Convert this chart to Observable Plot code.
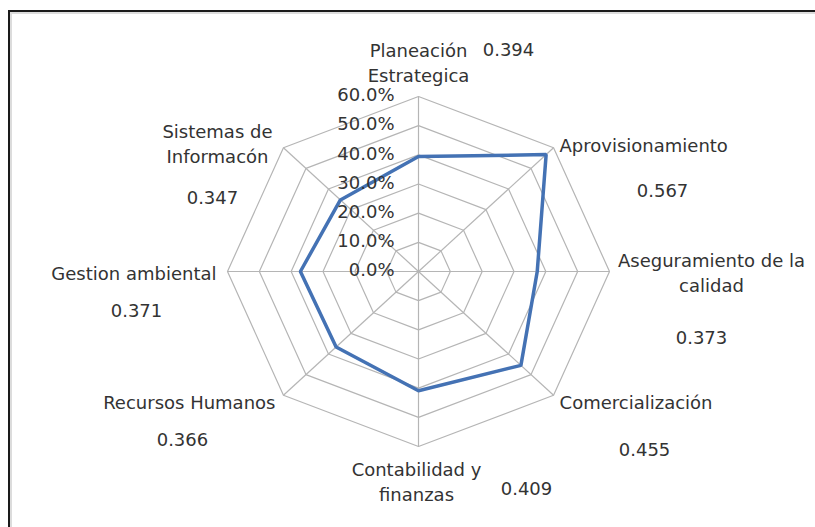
<!DOCTYPE html>
<html>
<head>
<meta charset="utf-8">
<script src="https://cdn.jsdelivr.net/npm/d3@7"></script>
<script src="https://cdn.jsdelivr.net/npm/@observablehq/plot@0.6"></script>
<style>
  html, body { margin: 0; padding: 0; background: #fff; }
  #wrap { position: relative; width: 815px; height: 527px; overflow: hidden; }
  #border { position: absolute; left: 8px; top: 10px; right: -4px; bottom: -4px;
            border-top: 2px solid #1a1a1a; border-left: 2px solid #1a1a1a;
            box-shadow: inset 2px 2px 0 #dcdcdc; pointer-events: none; }
  svg { position: absolute; left: 0; top: 0; }
</style>
</head>
<body>
<div id="wrap"><div id="border"></div></div>
<script>
// ---- data ----
const categories = [
  "Planeación\nEstrategica",
  "Aprovisionamiento",
  "Aseguramiento de la\ncalidad",
  "Comercialización",
  "Contabilidad y\nfinanzas",
  "Recursos Humanos",
  "Gestion ambiental",
  "Sistemas de\nInformacón"
];
const values = [0.394, 0.567, 0.373, 0.455, 0.409, 0.366, 0.371, 0.347];
const valueLabels = ["0.394", "0.567", "0.373", "0.455", "0.409", "0.366", "0.371", "0.347"];
const tickValues = [0, 0.1, 0.2, 0.3, 0.4, 0.5, 0.6];
const tickLabels = ["0.0%", "10.0%", "20.0%", "30.0%", "40.0%", "50.0%", "60.0%"];

// ---- label layout (pixel offsets from each axis end) ----
const catLayout = [
  {anchor: "middle", dx: 0,   dy: -35},
  {anchor: "start",  dx: 6,   dy: -4},
  {anchor: "middle", dx: 102, dy: 0},
  {anchor: "start",  dx: 6,   dy: 6},
  {anchor: "middle", dx: -2,  dy: 34},
  {anchor: "end",    dx: -8,  dy: 6},
  {anchor: "end",    dx: -11, dy: 0},
  {anchor: "middle", dx: -66, dy: -5}
];
const valLayout = [
  {dx: 90,  dy: -46},
  {dx: 109, dy: 43},
  {dx: 92,  dy: 67},
  {dx: 91,  dy: 55},
  {dx: 108, dy: 43},
  {dx: -101,dy: 45},
  {dx: -91, dy: 40},
  {dx: -71, dy: 50}
];

// ---- geometry helpers ----
const n = categories.length;
const maxV = 0.6;
const ang = i => (i * 2 * Math.PI) / n;
const px = (i, v) => v * Math.sin(ang(i));
const py = (i, v) => v * Math.cos(ang(i));

const rings = tickValues.slice(1).flatMap(t =>
  d3.range(n + 1).map(i => ({t, x: px(i % n, t), y: py(i % n, t)})));
const spokes = d3.range(n).map(i => ({x2: px(i, maxV), y2: py(i, maxV)}));
const series = d3.range(n + 1).map(i => ({x: px(i % n, values[i % n]), y: py(i % n, values[i % n])}));
const ends = d3.range(n).map(i => ({
  x: px(i, maxV), y: py(i, maxV), cat: categories[i], val: valueLabels[i],
  ...catLayout[i], vdx: valLayout[i].dx, vdy: valLayout[i].dy
}));
const ticks = tickValues.map((t, k) => ({y: t, label: tickLabels[k]}));

const font = "'DejaVu Sans', sans-serif";
const fs = 18;
const textCol = "#333333";

const marks = [
  Plot.line(rings, {x: "x", y: "y", z: "t", stroke: "#b5b5b5", strokeWidth: 1.2}),
  Plot.link(spokes, {x1: 0, y1: 0, x2: "x2", y2: "y2", stroke: "#b5b5b5", strokeWidth: 1.2}),
  Plot.line(series, {x: "x", y: "y", stroke: "#4472b4", strokeWidth: 3.5, strokeLinejoin: "miter"}),
  Plot.text(ticks, {x: 0, y: "y", text: "label", textAnchor: "end", dx: -24, dy: -1,
    fontSize: fs, fill: textCol, fontFamily: font}),
];
for (const d of ends) {
  marks.push(Plot.text([d], {x: "x", y: "y", text: "cat", textAnchor: d.anchor, dx: d.dx, dy: d.dy,
    lineAnchor: "middle", lineHeight: 1.4, fontSize: fs, fill: textCol, fontFamily: font}));
  marks.push(Plot.text([d], {x: "x", y: "y", text: "val", textAnchor: "middle", dx: d.vdx, dy: d.vdy,
    fontSize: fs, fill: textCol, fontFamily: font}));
}

const chart = Plot.plot({
  width: 815,
  height: 527,
  marginLeft: 227,
  marginRight: 206,
  marginTop: 96,
  marginBottom: 81,
  x: {domain: [-maxV, maxV], axis: null},
  y: {domain: [-maxV, maxV], axis: null},
  style: {background: "transparent", overflow: "visible"},
  marks
});
document.getElementById("wrap").prepend(chart);
</script>
</body>
</html>
